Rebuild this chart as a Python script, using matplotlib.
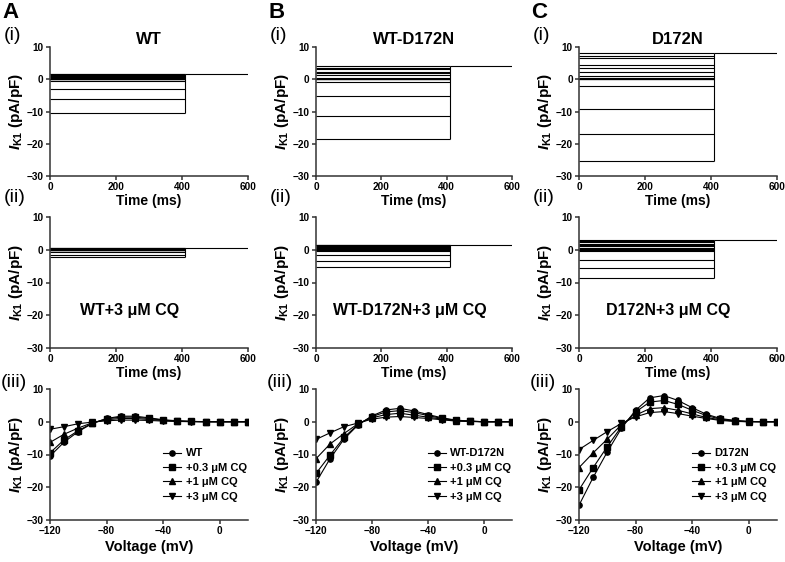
import matplotlib
matplotlib.use("Agg")
import matplotlib.pyplot as plt

plt.rcParams['font.family'] = 'Liberation Sans'
plt.rcParams['font.weight'] = 'bold'
plt.rcParams['axes.labelweight'] = 'bold'
plt.rcParams['mathtext.fontset'] = 'custom'
plt.rcParams['mathtext.it'] = 'Liberation Sans:italic:bold'
plt.rcParams['mathtext.rm'] = 'Liberation Sans:bold'
plt.rcParams['mathtext.bf'] = 'Liberation Sans:bold'

# test potentials (mV)
voltage = [-120, -110, -100, -90, -80, -70, -60, -50, -40, -30, -20, -10, 0, 10, 20]

# I-V data (pA/pF)
wt_ctrl = [-10.5, -6.2, -3.0, -0.5, 1.0, 1.7, 1.7, 1.2, 0.6, 0.3, 0.1, 0.05, 0, 0, 0]
wt_cq03 = [-9.5, -5.5, -2.7, -0.4, 0.9, 1.4, 1.4, 1.0, 0.5, 0.2, 0.1, 0, 0, 0, 0]
wt_cq1 = [-6.3, -3.8, -1.9, -0.3, 0.6, 1.0, 1.0, 0.7, 0.4, 0.2, 0.1, 0, 0, 0, 0]
wt_cq3 = [-2.3, -1.5, -0.6, -0.1, 0.3, 0.5, 0.5, 0.4, 0.2, 0.1, 0, 0, 0, 0, 0]

het_ctrl = [-18.5, -11.3, -5.3, -1.0, 1.8, 3.6, 4.1, 3.3, 2.2, 1.2, 0.5, 0.2, 0, 0, 0]
het_cq03 = [-15.8, -10.2, -4.8, -0.8, 1.6, 3.0, 3.4, 2.8, 1.9, 1.0, 0.4, 0.2, 0, 0, 0]
het_cq1 = [-11.3, -6.8, -3.6, -0.6, 1.2, 2.2, 2.6, 2.0, 1.4, 0.8, 0.3, 0.1, 0, 0, 0]
het_cq3 = [-5.4, -3.4, -1.5, -0.4, 0.8, 1.4, 1.6, 1.3, 1.0, 0.6, 0.2, 0.1, 0, 0, 0]

mut_ctrl = [-25.5, -17.0, -9.2, -2.0, 3.5, 7.3, 8.0, 6.5, 4.3, 2.3, 1.0, 0.4, 0.1, 0, 0]
mut_cq03 = [-20.8, -14.0, -7.6, -1.5, 3.0, 6.0, 6.5, 5.3, 3.5, 1.9, 0.8, 0.3, 0.1, 0, 0]
mut_cq1 = [-14.0, -9.5, -5.3, -0.9, 2.0, 4.0, 4.3, 3.5, 2.4, 1.3, 0.6, 0.2, 0, 0, 0]
mut_cq3 = [-8.5, -5.7, -3.0, -0.5, 1.5, 2.8, 3.1, 2.5, 1.7, 1.0, 0.4, 0.1, 0, 0, 0]

pulse_end = 410   # ms
sweep_end = 600   # ms

groups = ["WT", "WT-D172N", "D172N"]
letters = ["A", "B", "C"]
ctrl_data = [wt_ctrl, het_ctrl, mut_ctrl]
cq_sets = [[wt_cq03, wt_cq1, wt_cq3], [het_cq03, het_cq1, het_cq3], [mut_cq03, mut_cq1, mut_cq3]]
cq_labels = ["+0.3 \u03bcM CQ", "+1 \u03bcM CQ", "+3 \u03bcM CQ"]
markers = ["o", "s", "^", "v"]
cq_text_x = [242, 288, 270]

ylab = r"$I_{\mathrm{K1}}$ (pA/pF)"

fig = plt.figure(figsize=(7.85, 5.62), dpi=100)
W, H = 785.0, 562.0
col_px = [(50, 248), (316, 512), (579, 777)]
row_px = [(47, 176), (217, 348), (389, 520)]


def make_ax(c, r):
    l, rr = col_px[c]
    t, b = row_px[r]
    ax = fig.add_axes([l / W, 1 - b / H, (rr - l) / W, (b - t) / H])
    for s in ["top", "right"]:
        ax.spines[s].set_visible(False)
    for s in ["left", "bottom"]:
        ax.spines[s].set_linewidth(1.1)
        ax.spines[s].set_color("#333333")
    ax.tick_params(length=3, width=1.1, color="#333333", labelsize=7.2, pad=1.5)
    ax.set_ylim(-30, 10)
    ax.set_yticks([-30, -20, -10, 0, 10])
    ax.set_ylabel(ylab, fontsize=11, labelpad=1)
    return ax


def bold_ticks(ax):
    plt.setp(ax.get_xticklabels() + ax.get_yticklabels(), fontweight="bold")


def traces(ax, levels):
    top = max(levels)
    ax.hlines(levels, 0, pulse_end, color="black", lw=0.8)
    ax.vlines(pulse_end, min(levels), top, color="black", lw=0.8)
    ax.hlines(top, pulse_end, sweep_end, color="black", lw=0.8)
    ax.set_xlim(0, sweep_end)
    ax.set_xticks([0, 200, 400, 600])
    ax.set_xlabel("Time (ms)", fontsize=10, labelpad=1.5)
    bold_ticks(ax)


for c in range(3):
    ax1 = make_ax(c, 0)
    traces(ax1, ctrl_data[c])
    ax1.text(0.5, 1.0, groups[c], transform=ax1.transAxes, ha="center", va="bottom",
             fontsize=12, fontweight="bold")

    ax2 = make_ax(c, 1)
    traces(ax2, cq_sets[c][2])
    ax2.text(cq_text_x[c], -18.7, groups[c] + "+3 \u03bcM CQ", ha="center", va="center",
             fontsize=11.5, fontweight="bold")

    ax3 = make_ax(c, 2)
    series = [ctrl_data[c]] + cq_sets[c]
    names = [groups[c]] + cq_labels
    for vals, mk, nm in zip(series, markers, names):
        ax3.plot(voltage, vals, color="black", lw=0.8, marker=mk, ms=3.8, label=nm)
    ax3.set_xlim(-120, 20)
    ax3.set_xticks([-120, -80, -40, 0])
    ax3.set_xlabel("Voltage (mV)", fontsize=10.5, labelpad=3)
    bold_ticks(ax3)
    ax3.legend(loc="upper left", bbox_to_anchor=(0.55, 0.58), frameon=False,
               prop={"size": 8, "weight": "bold"},
               handlelength=1.6, handletextpad=0.4, labelspacing=0.4, borderaxespad=0)

    l = col_px[c][0]
    fig.text((l - 48) / W, 1 - 2 / H, letters[c], fontsize=16, fontweight="bold", va="top")
    fig.text((l - 46) / W, 1 - 27 / H, "(i)", fontsize=14, fontweight="normal", va="top")
    fig.text((l - 46) / W, 1 - 189 / H, "(ii)", fontsize=14, fontweight="normal", va="top")
    fig.text((l - 49) / W, 1 - 374 / H, "(iii)", fontsize=14, fontweight="normal", va="top")

fig.savefig("out.png", dpi=100)
